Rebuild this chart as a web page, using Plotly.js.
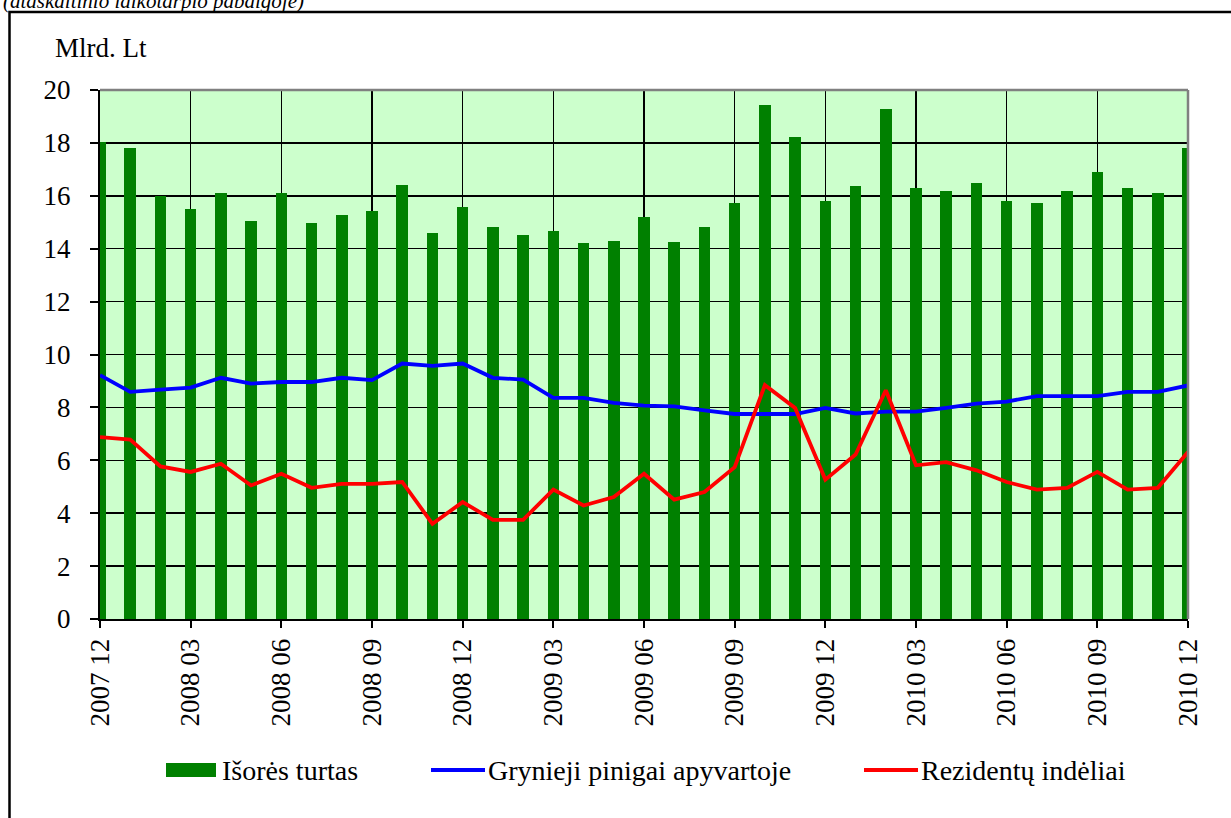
<!DOCTYPE html>
<html>
<head>
<meta charset="utf-8">
<script src="https://cdn.plot.ly/plotly-3.0.1.min.js"></script>
<style>
  html, body { margin: 0; padding: 0; background: #ffffff; }
  #chart { width: 1231px; height: 818px; }
</style>
</head>
<body>
<div id="chart"></div>
<script>
// ---- data ----
const months = [
  "2007 12",
  "2008 01","2008 02","2008 03","2008 04","2008 05","2008 06",
  "2008 07","2008 08","2008 09","2008 10","2008 11","2008 12",
  "2009 01","2009 02","2009 03","2009 04","2009 05","2009 06",
  "2009 07","2009 08","2009 09","2009 10","2009 11","2009 12",
  "2010 01","2010 02","2010 03","2010 04","2010 05","2010 06",
  "2010 07","2010 08","2010 09","2010 10","2010 11","2010 12"
];
const quarterTicks = [
  "2007 12","2008 03","2008 06","2008 09","2008 12","2009 03","2009 06",
  "2009 09","2009 12","2010 03","2010 06","2010 09","2010 12"
];
const isoresTurtas = [
  18.03, 17.81, 15.99, 15.50, 16.11, 15.06, 16.11, 14.97, 15.27, 15.44,
  16.42, 14.59, 15.57, 14.82, 14.51, 14.66, 14.22, 14.29, 15.21, 14.27,
  14.82, 15.74, 19.44, 18.21, 15.82, 16.36, 19.27, 16.28, 16.19, 16.50,
  15.82, 15.74, 16.19, 16.90, 16.29, 16.12, 17.82
];
const grynieji = [
  9.22, 8.59, 8.67, 8.75, 9.12, 8.90, 8.96, 8.96, 9.12, 9.03,
  9.66, 9.57, 9.66, 9.12, 9.05, 8.36, 8.36, 8.17, 8.07, 8.04,
  7.89, 7.75, 7.75, 7.75, 7.98, 7.77, 7.84, 7.84, 7.98, 8.14,
  8.22, 8.43, 8.43, 8.43, 8.59, 8.59, 8.83
];
const rezidentu = [
  6.88, 6.78, 5.77, 5.56, 5.87, 5.05, 5.49, 4.96, 5.11, 5.11,
  5.18, 3.60, 4.42, 3.75, 3.75, 4.89, 4.29, 4.61, 5.49, 4.51,
  4.80, 5.74, 8.84, 7.98, 5.27, 6.22, 8.65, 5.81, 5.93, 5.62,
  5.18, 4.89, 4.96, 5.56, 4.89, 4.96, 6.31
];
const seriesNames = ["Išorės turtas", "Grynieji pinigai apyvartoje", "Rezidentų indėliai"];
const yTitle = "Mlrd. Lt";
const topNote = "(ataskaitinio laikotarpio pabaigoje)";

// ---- styling ----
const SERIF = "Liberation Serif";
const C_BAR = "#008000", C_BLUE = "#0000FF", C_RED = "#FF0000";

// plot area geometry (pixels -> paper)
const ML = 100, MR = 43, MT = 90, MB = 199, CW = 1231, CH = 818;
const PW = CW - ML - MR, PH = CH - MT - MB;
const toPx = x => (x - ML) / PW;
const toPy = y => (CH - MB - y) / PH;

const traces = [
  { type: "bar", x: months, y: isoresTurtas, name: seriesNames[0],
    marker: { color: C_BAR, line: { width: 0 } }, width: 0.38 },
  { type: "scatter", mode: "lines", x: months, y: grynieji, name: seriesNames[1],
    line: { color: C_BLUE, width: 3.8 } },
  { type: "scatter", mode: "lines", x: months, y: rezidentu, name: seriesNames[2],
    line: { color: C_RED, width: 3.8 } }
];

function txt(size) { return { family: SERIF, size: size, color: "#000" }; }

const legendY = toPy(770);
const layout = {
  width: CW, height: CH,
  margin: { l: ML, r: MR, t: MT, b: MB, pad: 0 },
  paper_bgcolor: "#ffffff",
  plot_bgcolor: "#CCFFCC",
  showlegend: false,
  xaxis: {
    type: "category",
    range: [0, months.length - 1],
    tickmode: "array",
    tickvals: quarterTicks,
    ticktext: quarterTicks,
    tickangle: -90,
    ticks: "outside", ticklen: 7, tickwidth: 2, tickcolor: "#000000",
    showgrid: true, gridcolor: "#000000", gridwidth: 1.5,
    showline: true, linecolor: "#000000", linewidth: 2,
    tickfont: txt(27),
    zeroline: false, fixedrange: true
  },
  yaxis: {
    range: [0, 20], dtick: 2, tick0: 0,
    ticks: "outside", ticklen: 8, tickwidth: 2, tickcolor: "#000000",
    ticklabelstandoff: 14,
    showgrid: true, gridcolor: "#000000", gridwidth: 1.5,
    showline: true, linecolor: "#000000", linewidth: 2,
    zeroline: false,
    tickfont: txt(27),
    fixedrange: true
  },
  bargap: 0,
  shapes: [
    { type: "rect", xref: "paper", yref: "paper",
      x0: toPx(9.5), x1: toPx(1250), y0: toPy(840), y1: toPy(12),
      line: { color: "#000000", width: 2.5 }, fillcolor: "rgba(0,0,0,0)", layer: "below" },
    { type: "line", xref: "paper", yref: "paper", x0: 0, x1: 1, y0: 1, y1: 1,
      line: { color: "#808080", width: 2.5 }, layer: "above" },
    { type: "line", xref: "paper", yref: "paper", x0: 1, x1: 1, y0: 0, y1: 1,
      line: { color: "#808080", width: 2.5 }, layer: "above" },
    { type: "rect", xref: "paper", yref: "paper",
      x0: toPx(166), x1: toPx(216), y0: toPy(777), y1: toPy(763),
      fillcolor: C_BAR, line: { width: 0 } },
    { type: "line", xref: "paper", yref: "paper",
      x0: toPx(431), x1: toPx(485), y0: legendY, y1: legendY,
      line: { color: C_BLUE, width: 4 } },
    { type: "line", xref: "paper", yref: "paper",
      x0: toPx(864), x1: toPx(918), y0: legendY, y1: legendY,
      line: { color: C_RED, width: 4 } }
  ],
  annotations: [
    { text: yTitle, xref: "paper", yref: "paper", x: toPx(53), y: toPy(48),
      xanchor: "left", yanchor: "middle", showarrow: false, font: txt(27) },
    { text: "<i>" + topNote + "</i>", xref: "paper", yref: "paper", x: toPx(1), y: toPy(1),
      xanchor: "left", yanchor: "middle", showarrow: false, font: txt(21) },
    { text: seriesNames[0], xref: "paper", yref: "paper", x: toPx(220), y: legendY,
      xanchor: "left", yanchor: "middle", showarrow: false, font: txt(28) },
    { text: seriesNames[1], xref: "paper", yref: "paper", x: toPx(486), y: legendY,
      xanchor: "left", yanchor: "middle", showarrow: false, font: txt(28) },
    { text: seriesNames[2], xref: "paper", yref: "paper", x: toPx(919), y: legendY,
      xanchor: "left", yanchor: "middle", showarrow: false, font: txt(28) }
  ]
};

Plotly.newPlot("chart", traces, layout, { displayModeBar: false, staticPlot: true });
</script>
</body>
</html>
